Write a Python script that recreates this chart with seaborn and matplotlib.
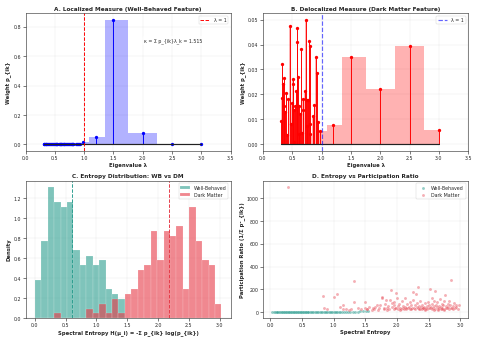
import numpy as np
import pandas as pd
import matplotlib
matplotlib.use("Agg")
import matplotlib.pyplot as plt
import seaborn as sns

sns.set_theme(style="ticks", color_codes=False)
plt.rcParams['font.family'] = ['DejaVu Sans']

# eigenvalues shared by panels A and B
eigvals = [0.31, 0.32, 0.33, 0.345, 0.355, 0.365, 0.375, 0.40, 0.41, 0.43,
           0.46, 0.47, 0.49, 0.505, 0.515, 0.525, 0.535, 0.545, 0.57, 0.58,
           0.585, 0.60, 0.61, 0.62, 0.635, 0.65, 0.66, 0.675, 0.69, 0.71,
           0.73, 0.745, 0.755, 0.77, 0.79, 0.80, 0.805, 0.81, 0.86, 0.875,
           0.90, 0.92, 0.935, 0.98, 1.2, 1.5, 2.0, 2.5, 3.0]

# localized (well-behaved) weights
wb_weights = [0.0, 0.0, 0.0, 0.0, 0.0, 0.0, 0.0, 0.0, 0.0, 0.0,
              0.0, 0.0, 0.0, 0.0, 0.0, 0.0, 0.0, 0.0, 0.0, 0.0,
              0.0, 0.0, 0.0, 0.0, 0.0, 0.0, 0.0, 0.0, 0.0, 0.0,
              0.0, 0.0, 0.0, 0.0, 0.0, 0.0, 0.0, 0.0, 0.0, 0.0,
              0.0, 0.0, 0.0, 0.02, 0.05, 0.85, 0.08, 0.0, 0.0]

# delocalized (dark matter) weights
dm_weights = [0.0094, 0.0187, 0.0323, 0.0242, 0.0152, 0.0265, 0.0130, 0.0204, 0.0036, 0.0183,
              0.0474, 0.0081, 0.0165, 0.0260, 0.0242, 0.0139, 0.0008, 0.0152, 0.0214, 0.0466,
              0.0412, 0.0270, 0.0155, 0.0041, 0.0120, 0.0384, 0.0046, 0.0180, 0.0137, 0.0214,
              0.0500, 0.0178, 0.0075, 0.0178, 0.0416, 0.0394, 0.0081, 0.0043, 0.0113, 0.0158,
              0.0348, 0.0287, 0.0088, 0.0052, 0.0077, 0.0348, 0.0220, 0.0396, 0.0057]

# entropy histograms (density per bin, 29 bins over 0 .. 3.03)
hist_lo, hist_hi, hist_nbins = 0.0, 3.03, 29
wb_density = [0.38, 0.77, 1.31, 1.16, 1.11, 1.16, 0.68, 0.53, 0.62, 0.53,
              0.58, 0.29, 0.24, 0.19, 0.0, 0.0, 0.0, 0.0, 0.0, 0.0,
              0.0, 0.0, 0.0, 0.0, 0.0, 0.0, 0.0, 0.0, 0.0]
dm_density = [0.0, 0.0, 0.0, 0.048, 0.0, 0.0, 0.0, 0.0, 0.096, 0.048,
              0.14, 0.048, 0.19, 0.048, 0.24, 0.29, 0.48, 0.53, 0.87, 0.58,
              0.87, 0.82, 0.92, 0.29, 1.11, 0.77, 0.58, 0.53, 0.14]
wb_mean = 0.605
dm_mean = 2.186

# entropy vs participation ratio
wb_entropy = [0.03, 0.05, 0.07, 0.09, 0.10, 0.12, 0.13, 0.15, 0.16, 0.18,
              0.19, 0.20, 0.21, 0.22, 0.23, 0.24, 0.25, 0.26, 0.27, 0.28,
              0.29, 0.30, 0.31, 0.32, 0.33, 0.34, 0.35, 0.36, 0.37, 0.38,
              0.39, 0.40, 0.41, 0.42, 0.43, 0.44, 0.45, 0.46, 0.47, 0.48,
              0.49, 0.50, 0.51, 0.52, 0.53, 0.54, 0.55, 0.56, 0.57, 0.58,
              0.59, 0.60, 0.62, 0.64, 0.66, 0.68, 0.70, 0.72, 0.74, 0.76,
              0.78, 0.80, 0.82, 0.84, 0.86, 0.88, 0.90, 0.92, 0.94, 0.96,
              0.98, 1.00, 1.02, 1.04, 1.06, 1.08, 1.10, 1.13, 1.16, 1.19,
              1.22, 1.26, 1.30, 1.34, 1.38, 1.42, 1.47, 1.51, 1.55, 0.11]
wb_pr = [1.0, 1.0, 1.1, 1.1, 1.1, 1.2, 1.2, 1.2, 1.3, 1.3,
         1.3, 1.4, 1.4, 1.4, 1.5, 1.5, 1.5, 1.6, 1.6, 1.6,
         1.7, 1.7, 1.7, 1.8, 1.8, 1.8, 1.9, 1.9, 1.9, 2.0,
         2.0, 2.0, 2.1, 2.1, 2.1, 2.2, 2.2, 2.2, 2.3, 2.3,
         2.3, 2.4, 2.4, 2.4, 2.5, 2.5, 2.5, 2.6, 2.6, 2.6,
         2.7, 2.7, 2.8, 2.8, 2.9, 2.9, 3.0, 3.0, 3.1, 3.1,
         3.2, 3.2, 3.3, 3.3, 3.4, 3.4, 3.5, 3.5, 3.6, 3.6,
         3.7, 3.7, 3.8, 3.8, 3.9, 3.9, 4.0, 4.1, 4.2, 4.3,
         4.4, 4.5, 4.6, 4.8, 5.0, 5.2, 5.5, 5.8, 6.0, 1.1]
dm_entropy = [0.28, 0.83, 0.85, 1.00, 1.06, 1.14, 1.14, 1.20, 1.25, 1.32,
              1.32, 1.38, 1.43, 1.49, 1.49, 1.52, 1.56, 1.60, 1.63, 1.65,
              1.68, 1.72, 1.74, 1.76, 1.77, 1.79, 1.80, 1.81, 1.83, 1.84,
              1.86, 1.88, 1.89, 1.90, 1.92, 1.93, 1.95, 1.96, 1.98, 1.99,
              2.00, 2.01, 2.02, 2.04, 2.05, 2.06, 2.08, 2.09, 2.10, 2.12,
              2.13, 2.15, 2.16, 2.18, 2.19, 2.20, 2.21, 2.22, 2.24, 2.25,
              2.26, 2.27, 2.28, 2.29, 2.30, 2.31, 2.32, 2.33, 2.34, 2.35,
              2.36, 2.37, 2.38, 2.39, 2.40, 2.42, 2.43, 2.44, 2.45, 2.46,
              2.47, 2.48, 2.49, 2.50, 2.51, 2.52, 2.53, 2.54, 2.55, 2.56,
              2.57, 2.58, 2.59, 2.60, 2.61, 2.62, 2.63, 2.64, 2.65, 2.66,
              2.67, 2.68, 2.69, 2.70, 2.71, 2.72, 2.73, 2.74, 2.75, 2.76,
              2.77, 2.78, 2.79, 2.80, 2.81, 2.82, 2.83, 2.84, 2.86, 2.87,
              2.88, 2.89, 2.90, 2.92, 2.94, 2.96, 2.98, 1.70, 1.95, 2.15,
              2.35, 2.55, 2.75, 2.05, 2.45, 2.65, 1.85, 0.90, 1.10, 1.28,
              1.97, 2.23, 2.41, 2.58, 2.71, 2.85, 2.93, 1.62, 1.53, 2.11]
dm_pr = [1099, 139, 37, 136, 159, 59, 31, 28, 22, 272,
         88, 35, 23, 88, 37, 30, 42, 20, 28, 45,
         65, 33, 58, 122, 130, 40, 25, 70, 105, 38,
         55, 30, 108, 198, 82, 45, 28, 60, 170, 35,
         127, 50, 30, 75, 40, 25, 95, 33, 55, 122,
         42, 28, 68, 36, 48, 85, 30, 58, 40, 110,
         173, 35, 62, 28, 159, 45, 80, 221, 38, 52,
         30, 95, 42, 25, 65, 35, 48, 30, 78, 40,
         55, 28, 90, 38, 60, 32, 207, 45, 70, 127,
         35, 100, 50, 184, 30, 65, 42, 85, 28, 55,
         38, 112, 30, 48, 75, 35, 60, 28, 95, 150,
         40, 55, 32, 70, 45, 100, 30, 60, 278, 38,
         50, 25, 80, 35, 58, 30, 62, 20, 90, 35,
         30, 25, 22, 20, 22, 20, 22, 30, 45, 30,
         40, 25, 32, 18, 26, 35, 45, 32, 28, 26]

teal = '#2a9d8f'
red = '#e63946'

fig, axes = plt.subplots(2, 2, figsize=(14, 10))

def style(ax, title, xlabel, ylabel):
    ax.set_title(title, fontsize=12, fontweight='bold')
    ax.set_xlabel(xlabel, fontsize=11, fontweight='bold')
    ax.set_ylabel(ylabel, fontsize=11, fontweight='bold')
    ax.tick_params(labelsize=10)
    ax.grid(True, alpha=0.4)
    for sp in ax.spines.values():
        sp.set_color('#333333')

# A. localized measure
ax = axes[0, 0]
ax.fill_between(eigvals, wb_weights, step='mid', color='blue', alpha=0.3, lw=0)
ml, sl, bl = ax.stem(eigvals, wb_weights, linefmt='-', markerfmt='o', basefmt='-')
plt.setp(sl, linewidth=2, color='blue')
plt.setp(ml, markersize=7, color='blue', markeredgewidth=0)
plt.setp(bl, linewidth=2.5, color='#222222')
ax.axvline(1.0, color='red', ls='--', lw=2, label='λ = 1')
ax.set_xlim(0, 3.5)
ax.text(0.72, 0.80, 'κ = Σ p_{ik}λ_k = 1.515', transform=ax.transAxes,
        ha='center', va='center', fontsize=10,
        bbox=dict(boxstyle='round', facecolor='white', alpha=0.8))
ax.legend(loc='upper right', fontsize=10)
style(ax, 'A. Localized Measure (Well-Behaved Feature)', 'Eigenvalue λ', 'Weight p_{ik}')

# B. delocalized measure
ax = axes[0, 1]
ax.fill_between(eigvals, dm_weights, step='mid', color='red', alpha=0.3, lw=0)
ml, sl, bl = ax.stem(eigvals, dm_weights, linefmt='-', markerfmt='o', basefmt='-')
plt.setp(sl, linewidth=2, color='red')
plt.setp(ml, markersize=7, color='red', markeredgewidth=0)
plt.setp(bl, linewidth=2.5, color='#222222')
ax.axvline(1.0, color='blue', ls='--', lw=2.5, alpha=0.6, label='λ = 1')
ax.set_xlim(0, 3.5)
ax.legend(loc='upper right', fontsize=10)
style(ax, 'B. Delocalized Measure (Dark Matter Feature)', 'Eigenvalue λ', 'Weight p_{ik}')

# C. entropy distributions
ax = axes[1, 0]
edges = list(np.linspace(hist_lo, hist_hi, hist_nbins + 1))
centers = [(a + b) / 2 for a, b in zip(edges[:-1], edges[1:])]
hist_df = pd.DataFrame({'entropy': centers, 'wb': wb_density, 'dm': dm_density})
sns.histplot(data=hist_df, x='entropy', weights='wb', bins=edges, stat='count',
             color=teal, alpha=0.6, edgecolor='white', linewidth=0.3,
             label='Well-Behaved', ax=ax)
sns.histplot(data=hist_df, x='entropy', weights='dm', bins=edges, stat='count',
             color=red, alpha=0.6, edgecolor='white', linewidth=0.3,
             label='Dark Matter', ax=ax)
ax.axvline(wb_mean, color=teal, ls='--', lw=2)
ax.axvline(dm_mean, color=red, ls='--', lw=2)
ax.legend(loc='upper right', fontsize=10)
style(ax, 'C. Entropy Distribution: WB vs DM',
      'Spectral Entropy H(μ_i) = -Σ p_{ik} log(p_{ik})', 'Density')

# D. entropy vs participation ratio
ax = axes[1, 1]
sns.scatterplot(x=wb_entropy, y=wb_pr, color=teal, alpha=0.5, s=40,
                label='Well-Behaved', ax=ax)
sns.scatterplot(x=dm_entropy, y=dm_pr, color=red, alpha=0.4, s=40,
                label='Dark Matter', ax=ax)
ax.legend(loc='upper right', fontsize=10)
style(ax, 'D. Entropy vs Participation Ratio', 'Spectral Entropy',
      'Participation Ratio (1/Σ p²_{ik})')

plt.tight_layout()
plt.savefig('out.png', dpi=34.15)
